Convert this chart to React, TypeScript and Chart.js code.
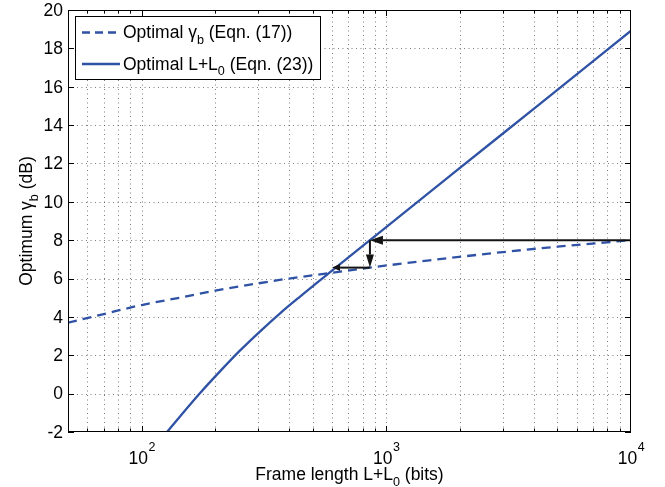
import { useEffect, useRef } from "react";
import { Chart, registerables } from "chart.js";
Chart.register(...registerables);

// ---- data ----
const dashedX = [50, 70, 100, 150, 200, 300, 400, 600, 857, 1500, 3000, 5000, 10000];
const dashedY = [3.7, 4.15, 4.62, 5.05, 5.37, 5.75, 6.0, 6.3, 6.57, 6.95, 7.38, 7.66, 8.0];
const solidX = [127, 143.5, 173, 209, 252, 305, 368, 444, 605, 857, 1820, 4246, 10000];
const solidY = [-2.0, -1.19, 0.02, 1.16, 2.24, 3.25, 4.19, 5.06, 6.45, 8.0, 11.35, 15.11, 18.92];

const yTickValues = [-2, 0, 2, 4, 6, 8, 10, 12, 14, 16, 18, 20];
const yTickLabels = ["-2", "0", "2", "4", "6", "8", "10", "12", "14", "16", "18", "20"];
const xMajorValues = [100, 1000, 10000];
const xMajorExponents = ["2", "3", "4"];

const legendTexts = [
  ["Optimal γ", "b", " (Eqn. (17))"],
  ["Optimal L+L", "0", " (Eqn. (23))"],
];
const xTitle = ["Frame length L+L", "0", " (bits)"];
const yTitle = ["Optimum γ", "b", " (dB)"];

// arrows (data coordinates)
const arrowStartX = [10000, 857, 857];
const arrowStartY = [8.0, 8.0, 6.57];
const arrowEndX = [857, 857, 600];
const arrowEndY = [8.0, 6.57, 6.57];

const X_MIN = 50;
const X_MAX = 10000;
const Y_MIN = -2;
const Y_MAX = 20;

// ---- styles ----
const BLUE = "#2F52A5";
const FONT = "'Liberation Sans', Arial, Helvetica, sans-serif";
const FS = 17.5;

function font(size: number) {
  return `${size}px ${FONT}`;
}

function drawSubText(
  ctx: CanvasRenderingContext2D,
  parts: string[],
  x: number,
  y: number,
  size: number,
  align: "left" | "center"
) {
  const sub = size * 0.72;
  ctx.font = font(size);
  const w0 = ctx.measureText(parts[0]).width;
  const w2 = ctx.measureText(parts[2]).width;
  ctx.font = font(sub);
  const w1 = ctx.measureText(parts[1]).width;
  const total = w0 + w1 + w2;
  let sx = align === "center" ? x - total / 2 : x;
  ctx.textAlign = "left";
  ctx.textBaseline = "alphabetic";
  ctx.font = font(size);
  ctx.fillText(parts[0], sx, y);
  sx += w0;
  ctx.font = font(sub);
  ctx.fillText(parts[1], sx, y + size * 0.32);
  sx += w1;
  ctx.font = font(size);
  ctx.fillText(parts[2], sx, y);
}

function minorXTicks(): number[] {
  const out: number[] = [];
  for (const d of [10, 100, 1000]) {
    for (let k = 1; k <= 9; k++) {
      const v = d * k;
      if (v > X_MIN && v < X_MAX) out.push(v);
    }
  }
  return out;
}

const gridPlugin = {
  id: "matlabGrid",
  beforeDatasetsDraw(chart: any) {
    const { ctx, chartArea, scales } = chart;
    const { left, right, top, bottom } = chartArea;
    ctx.save();
    ctx.strokeStyle = "rgba(70,70,70,0.7)";
    ctx.lineWidth = 1;
    ctx.setLineDash([1, 3.5]);
    for (const v of minorXTicks()) {
      const px = Math.round(scales.x.getPixelForValue(v)) + 0.5;
      ctx.beginPath();
      ctx.moveTo(px, bottom);
      ctx.lineTo(px, top);
      ctx.stroke();
    }
    for (const v of yTickValues) {
      if (v === Y_MIN || v === Y_MAX) continue;
      const py = Math.round(scales.y.getPixelForValue(v)) + 0.5;
      ctx.beginPath();
      ctx.moveTo(left, py);
      ctx.lineTo(right, py);
      ctx.stroke();
    }
    ctx.restore();
  },
};

function drawArrow(
  ctx: CanvasRenderingContext2D,
  x0: number,
  y0: number,
  x1: number,
  y1: number,
  headLen: number,
  headHalf: number
) {
  const ang = Math.atan2(y1 - y0, x1 - x0);
  const bx = x1 - Math.cos(ang) * headLen;
  const by = y1 - Math.sin(ang) * headLen;
  ctx.beginPath();
  ctx.moveTo(x0, y0);
  ctx.lineTo(bx, by);
  ctx.stroke();
  ctx.beginPath();
  ctx.moveTo(x1, y1);
  ctx.lineTo(bx + Math.sin(ang) * headHalf, by - Math.cos(ang) * headHalf);
  ctx.lineTo(bx - Math.sin(ang) * headHalf, by + Math.cos(ang) * headHalf);
  ctx.closePath();
  ctx.fill();
}

const decorPlugin = {
  id: "matlabDecor",
  afterDatasetsDraw(chart: any) {
    const { ctx, chartArea, scales } = chart;
    const { left, right, top, bottom } = chartArea;
    const xs = scales.x;
    const ys = scales.y;
    ctx.save();

    // arrows
    const heads = [
      [13, 4.5],
      [13, 4],
      [8, 3.5],
    ];
    ctx.strokeStyle = "#141414";
    ctx.fillStyle = "#141414";
    ctx.lineWidth = 2;
    for (let i = 0; i < arrowStartX.length; i++) {
      drawArrow(
        ctx,
        xs.getPixelForValue(arrowStartX[i]),
        ys.getPixelForValue(arrowStartY[i]),
        xs.getPixelForValue(arrowEndX[i]),
        ys.getPixelForValue(arrowEndY[i]),
        heads[i][0],
        heads[i][1]
      );
    }

    // axes box
    ctx.setLineDash([]);
    ctx.strokeStyle = "#000";
    ctx.lineWidth = 1;
    ctx.strokeRect(Math.round(left) + 0.5, Math.round(top) + 0.5, Math.round(right - left) - 1, Math.round(bottom - top) - 1);

    // inward tick marks
    ctx.beginPath();
    for (const v of minorXTicks()) {
      const px = Math.round(xs.getPixelForValue(v)) + 0.5;
      const len = xMajorValues.includes(v) ? 6 : 3.5;
      ctx.moveTo(px, bottom);
      ctx.lineTo(px, bottom - len);
      ctx.moveTo(px, top);
      ctx.lineTo(px, top + len);
    }
    for (const v of yTickValues) {
      const py = Math.round(ys.getPixelForValue(v)) + 0.5;
      ctx.moveTo(left, py);
      ctx.lineTo(left + 6, py);
      ctx.moveTo(right, py);
      ctx.lineTo(right - 6, py);
    }
    ctx.stroke();

    // tick labels
    ctx.fillStyle = "#000";
    ctx.font = font(FS);
    ctx.textAlign = "right";
    ctx.textBaseline = "middle";
    yTickValues.forEach((v, i) => {
      ctx.fillText(yTickLabels[i], left - 5, ys.getPixelForValue(v) + 1);
    });
    xMajorValues.forEach((v, i) => {
      const px = xs.getPixelForValue(v);
      ctx.font = font(FS);
      const wb = ctx.measureText("10").width;
      ctx.font = font(12.5);
      const we = ctx.measureText(xMajorExponents[i]).width;
      const sx = px - (wb + we) / 2;
      ctx.textAlign = "left";
      ctx.textBaseline = "alphabetic";
      ctx.font = font(FS);
      ctx.fillText("10", sx, bottom + 32);
      ctx.font = font(12.5);
      ctx.fillText(xMajorExponents[i], sx + wb + 0.5, bottom + 19);
    });

    // axis titles
    drawSubText(ctx, xTitle, (left + right) / 2, bottom + 48, FS, "center");
    ctx.save();
    ctx.translate(32, (top + bottom) / 2);
    ctx.rotate(-Math.PI / 2);
    drawSubText(ctx, yTitle, 0, 0, FS, "center");
    ctx.restore();

    // legend
    const lx = 75.5, ly = 16.5, lw = 245, lh = 63;
    ctx.fillStyle = "#fff";
    ctx.fillRect(lx, ly, lw, lh);
    ctx.strokeStyle = "#000";
    ctx.lineWidth = 1;
    ctx.strokeRect(lx, ly, lw, lh);
    const rows = [32.5, 64];
    ctx.strokeStyle = BLUE;
    ctx.lineWidth = 2.3;
    rows.forEach((ry, i) => {
      ctx.setLineDash(i === 0 ? [8, 5] : []);
      ctx.beginPath();
      ctx.moveTo(82, ry);
      ctx.lineTo(120, ry);
      ctx.stroke();
    });
    ctx.setLineDash([]);
    ctx.fillStyle = "#000";
    rows.forEach((ry, i) => {
      drawSubText(ctx, legendTexts[i], 123, ry + 5.5, FS, "left");
    });

    ctx.restore();
  },
};

export default function App() {
  const ref = useRef<HTMLCanvasElement | null>(null);
  useEffect(() => {
    document.body.style.margin = "0";
    const canvas = ref.current;
    if (!canvas) return;
    const chart = new Chart(canvas, {
      type: "line",
      data: {
        datasets: [
          {
            label: "Optimal γb (Eqn. (17))",
            data: dashedX.map((x, i) => ({ x, y: dashedY[i] })),
            borderColor: BLUE,
            borderWidth: 2.3,
            borderDash: [9, 6],
            pointRadius: 0,
            cubicInterpolationMode: "monotone",
            fill: false,
          },
          {
            label: "Optimal L+L0 (Eqn. (23))",
            data: solidX.map((x, i) => ({ x, y: solidY[i] })),
            borderColor: BLUE,
            borderWidth: 2.3,
            pointRadius: 0,
            cubicInterpolationMode: "monotone",
            fill: false,
          },
        ],
      },
      options: {
        animation: false,
        responsive: false,
        devicePixelRatio: 1,
        layout: { padding: { left: 68, right: 34, top: 10, bottom: 55 } },
        scales: {
          x: {
            type: "logarithmic",
            min: X_MIN,
            max: X_MAX,
            grid: { display: false },
            border: { display: false },
            ticks: { display: false },
            afterFit: (s: any) => {
              s.height = 0;
            },
          },
          y: {
            type: "linear",
            min: Y_MIN,
            max: Y_MAX,
            grid: { display: false },
            border: { display: false },
            ticks: { display: false, stepSize: 2 },
            afterFit: (s: any) => {
              s.width = 0;
            },
          },
        },
        plugins: {
          legend: { display: false },
          tooltip: { enabled: false },
        },
      } as any,
      plugins: [gridPlugin, decorPlugin],
    });
    return () => chart.destroy();
  }, []);
  return (
    <canvas
      ref={ref}
      width={665}
      height={487}
      style={{ display: "block", width: 665, height: 487 }}
    />
  );
}
